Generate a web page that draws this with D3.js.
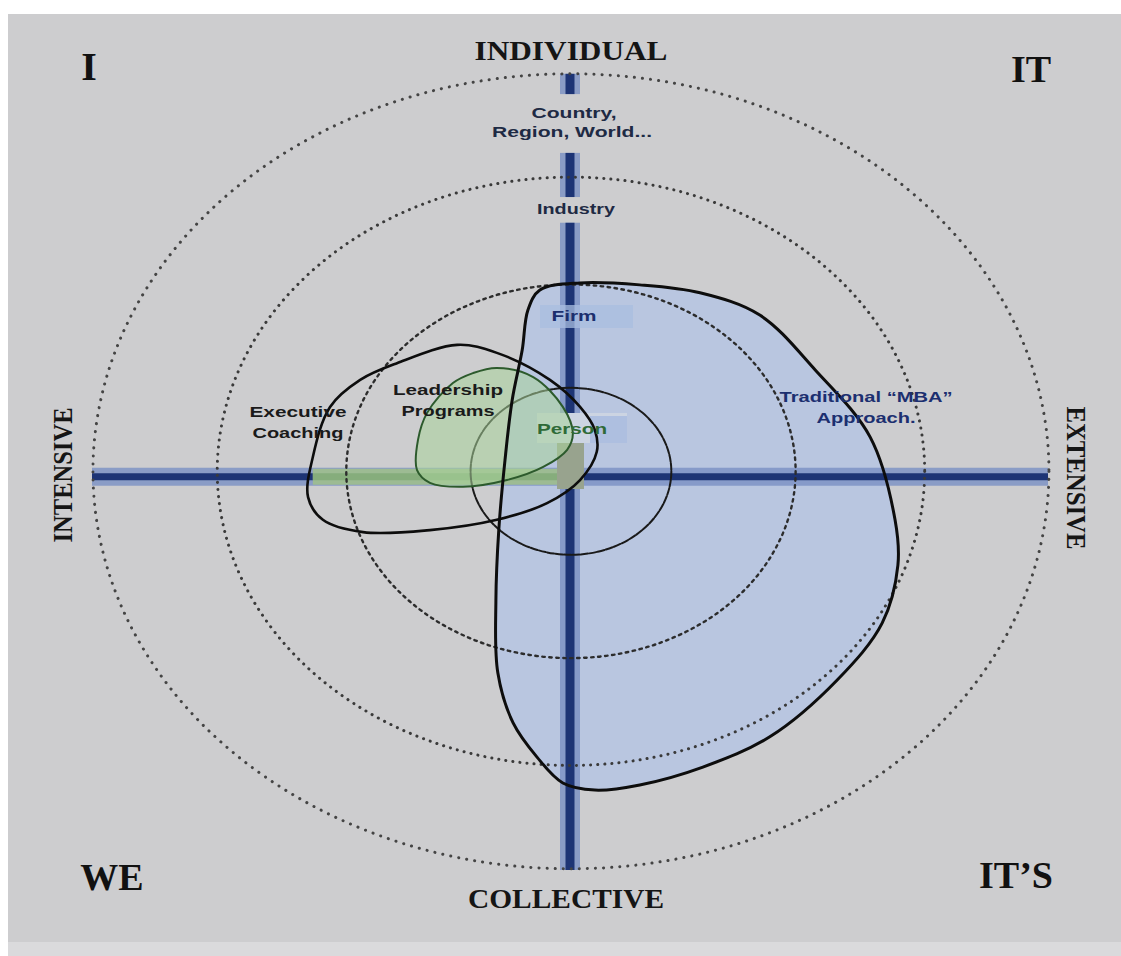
<!DOCTYPE html>
<html>
<head>
<meta charset="utf-8">
<script src="https://cdn.jsdelivr.net/npm/d3@7"></script>
<style>
  body { margin: 0; background: #fff; }
  svg { display: block; }
</style>
</head>
<body>
<div class="container"></div>
<script>
// rings: outer ring = 100 units
var ringRadii = [100, 74, 47, 21];

// shapes, in ring units (x: intensive -> extensive, y: collective -> individual)
var mbaShape = [[-6.3,45.9],[2.1,47.7],[14.6,47.2],[27.2,45.2],[39.7,39.6],[51.3,25.8],[62.8,8.9],
  [68.0,-11.9],[68.6,-23.3],[65.3,-37.9],[55.9,-52.2],[41.8,-66.5],[27.8,-74.1],[14.6,-78.6],
  [5.2,-79.9],[-1.5,-78.1],[-6.9,-71.6],[-11.9,-63.0],[-15.1,-50.4],[-15.5,-32.1],[-14.9,-14.5],
  [-13.6,3.1],[-12.1,18.2],[-10.0,30.8],[-8.8,40.9]];
var coachingShape = [[-23.6,32.1],[-15.3,30.1],[-4.2,23.3],[2.1,16.5],[5.2,10.7],[5.6,5.2],[2.1,-1.9],
  [-4.8,-7.7],[-15.3,-11.9],[-29.3,-14.5],[-43.3,-15.0],[-51.7,-11.9],[-54.8,-6.2],[-53.8,3.9],
  [-50.2,16.5],[-43.9,23.3],[-36.2,27.5]];
var programsShape = [[-15.3,26.3],[-7.7,24.0],[-1.5,16.5],[0.6,9.9],[-0.6,5.7],[-5.6,1.4],[-13.2,-1.9],
  [-22.4,-3.6],[-29.3,-2.6],[-32.0,0.6],[-31.8,8.2],[-29.9,15.0],[-24.5,22.5],[-20.3,25.0]];

var cornerLabels = ['I', 'IT', 'WE', 'IT\u2019S'];
var axisLabels = ['INDIVIDUAL', 'COLLECTIVE', 'INTENSIVE', 'EXTENSIVE'];
var levelLabels = ['Country,', 'Region, World...', 'Industry', 'Firm', 'Person'];
var approachLabels = [['Executive', 'Coaching'], ['Leadership', 'Programs'], ['Traditional \u201CMBA\u201D', 'Approach.']];

var svg = d3.select('.container')
            .append('svg')
                .attr('width', 1121)
                .attr('height', 956);

var x = d3.scaleLinear().domain([-100, 100]).range([92, 1048]);
var y = d3.scaleLinear().domain([-100, 100]).range([870, 75]);
var axisY = -1.1;

var blobLine = d3.line()
    .x(function(d) { return x(d[0]); })
    .y(function(d) { return y(d[1]); })
    .curve(d3.curveCatmullRomClosed.alpha(0.5));

// background
svg.append('rect').attr('x', 8).attr('y', 14).attr('width', 1113).attr('height', 942).style('fill', '#cdcdcf');
svg.append('rect').attr('x', 8).attr('y', 942).attr('width', 1113).attr('height', 14).style('fill', '#dadadc');

// MBA fill under everything
svg.append('path').attr('d', blobLine(mbaShape))
    .style('fill', '#b9c6e0');

// axes
function vSeg(a, b) {
  svg.append('line').attr('x1', x(0)).attr('x2', x(0)).attr('y1', y(a)).attr('y2', y(b))
      .style('stroke', '#7a90c4').style('stroke-width', 20).style('opacity', 0.8);
  svg.append('line').attr('x1', x(0)).attr('x2', x(0)).attr('y1', y(a)).attr('y2', y(b))
      .style('stroke', '#1d3475').style('stroke-width', 9);
}
vSeg(100.3, 95.2);
vSeg(80.4, 69.3);
vSeg(62.8, -100);

svg.append('line').attr('x1', x(-100)).attr('x2', x(100)).attr('y1', y(axisY)).attr('y2', y(axisY))
    .style('stroke', '#7a90c4').style('stroke-width', 18).style('opacity', 0.8);
svg.append('line').attr('x1', x(-100)).attr('x2', x(100)).attr('y1', y(axisY)).attr('y2', y(axisY))
    .style('stroke', '#1d3475').style('stroke-width', 7);

// firm box, lying over the axis
svg.append('rect').attr('x', 540).attr('y', 305).attr('width', 93).attr('height', 23)
    .style('fill', '#a9bde0').style('opacity', 0.75);

// green band over the intensive half
svg.append('line').attr('x1', x(-53.8)).attr('x2', x(2.1)).attr('y1', y(axisY)).attr('y2', y(axisY))
    .style('stroke', '#9dbb93').style('stroke-width', 16);
svg.append('line').attr('x1', x(-53.8)).attr('x2', x(2.1)).attr('y1', y(axisY)).attr('y2', y(axisY))
    .style('stroke', '#86ad7c').style('stroke-width', 7);
svg.append('rect').attr('x', 557).attr('y', 443).attr('width', 27).attr('height', 46)
    .style('fill', '#98a38e');

// person box
svg.append('rect').attr('x', 537).attr('y', 413).attr('width', 90).attr('height', 30)
    .style('fill', '#ccd4e2');
svg.append('rect').attr('x', 590).attr('y', 416).attr('width', 37).attr('height', 27)
    .style('fill', '#aebfe0');

// rings
var ringStyles = [
  {dash: '0.1 8', w: 3, c: '#444'},
  {dash: '0.1 7', w: 3, c: '#3a3a3a'},
  {dash: '2.5 4.5', w: 2.4, c: '#2c2c2c'},
  {dash: '7 1.5', w: 2, c: '#1a1a1a'}
];
svg.selectAll('ellipse.ring')
    .data(ringRadii)
    .enter()
    .append('ellipse')
        .attr('class', 'ring')
        .attr('cx', x(0.2))
        .attr('cy', y(0.3))
        .attr('rx', function(r) { return x(r) - x(0); })
        .attr('ry', function(r) { return y(0) - y(r); })
        .style('fill', 'none')
        .style('stroke', function(r, i) { return ringStyles[i].c; })
        .style('stroke-width', function(r, i) { return ringStyles[i].w; })
        .style('stroke-dasharray', function(r, i) { return ringStyles[i].dash; })
        .style('stroke-linecap', 'round');

// leadership programs (green)
svg.append('path').attr('d', blobLine(programsShape))
    .style('fill', '#a9d39b').style('opacity', 0.55);
svg.append('path').attr('d', blobLine(programsShape))
    .style('fill', 'none').style('stroke', '#2c5a2c').style('stroke-width', 2);

// outlines
svg.append('path').attr('d', blobLine(mbaShape))
    .style('fill', 'none').style('stroke', '#0d0d0d').style('stroke-width', 3);
svg.append('path').attr('d', blobLine(coachingShape))
    .style('fill', 'none').style('stroke', '#0d0d0d').style('stroke-width', 2.6);

// serif labels
var serif = '"Liberation Serif", "DejaVu Serif", serif';
var corners = [[89, 80, 40], [1031, 82, 38], [112, 890, 38], [1016, 888, 38]];
svg.selectAll('text.corner')
    .data(cornerLabels)
    .enter()
    .append('text')
        .attr('class', 'corner')
        .attr('x', function(d, i) { return corners[i][0]; })
        .attr('y', function(d, i) { return corners[i][1]; })
        .attr('text-anchor', 'middle')
        .style('font-family', serif)
        .style('font-weight', 'bold')
        .style('font-size', function(d, i) { return corners[i][2] + 'px'; })
        .style('fill', '#111')
        .text(function(d) { return d; });

var axisPos = [[571, 60, 0, 193], [566, 908, 0, 196], [72, 475, -90, 135], [1067, 478, 90, 143]];
svg.selectAll('text.axis')
    .data(axisLabels)
    .enter()
    .append('text')
        .attr('class', 'axis')
        .attr('transform', function(d, i) {
          return 'translate(' + axisPos[i][0] + ',' + axisPos[i][1] + ') rotate(' + axisPos[i][2] + ')';
        })
        .attr('text-anchor', 'middle')
        .attr('textLength', function(d, i) { return axisPos[i][3]; })
        .attr('lengthAdjust', 'spacingAndGlyphs')
        .style('font-family', serif)
        .style('font-weight', 'bold')
        .style('font-size', '28px')
        .style('fill', '#151515')
        .text(function(d) { return d; });

// sans labels
var sans = '"Liberation Sans", Arial, sans-serif';
var levelPos = [[574, 118, 85, '#1e2a44'], [572, 137, 160, '#1e2a44'], [576, 214, 78, '#1e2a44'],
                [574, 321, 45, '#1c2f6e'], [572, 434, 70, '#2f6a37']];
svg.selectAll('text.level')
    .data(levelLabels)
    .enter()
    .append('text')
        .attr('class', 'level')
        .attr('x', function(d, i) { return levelPos[i][0]; })
        .attr('y', function(d, i) { return levelPos[i][1]; })
        .attr('text-anchor', 'middle')
        .attr('textLength', function(d, i) { return levelPos[i][2]; })
        .attr('lengthAdjust', 'spacingAndGlyphs')
        .style('font-family', sans)
        .style('font-weight', 'bold')
        .style('font-size', '15px')
        .style('fill', function(d, i) { return levelPos[i][3]; })
        .text(function(d) { return d; });

var approachPos = [[298, 417, 438, 97, 91, '#1a1a1a'], [448, 395, 416, 110, 93, '#1a1a1a'],
                   [866, 402, 423, 173, 99, '#1c2f70']];
approachLabels.forEach(function(lines, i) {
  var p = approachPos[i];
  lines.forEach(function(t, j) {
    svg.append('text')
        .attr('x', p[0])
        .attr('y', p[1 + j])
        .attr('text-anchor', 'middle')
        .attr('textLength', p[3 + j])
        .attr('lengthAdjust', 'spacingAndGlyphs')
        .style('font-family', sans)
        .style('font-weight', 'bold')
        .style('font-size', '15px')
        .style('fill', p[5])
        .text(t);
  });
});
</script>
</body>
</html>
